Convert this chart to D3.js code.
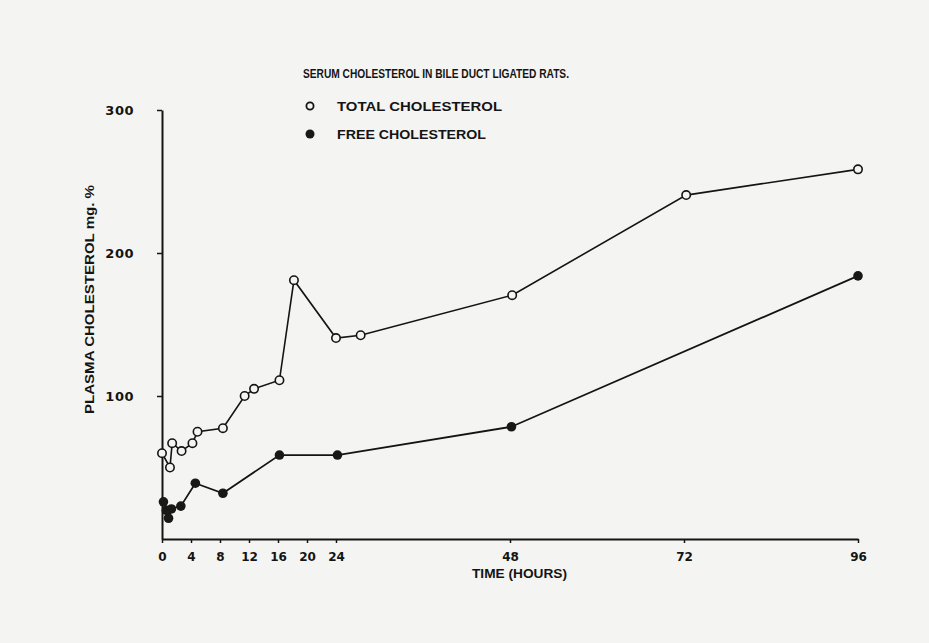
<!DOCTYPE html>
<html>
<head>
<meta charset="utf-8">
<script src="https://cdn.jsdelivr.net/npm/d3@7"></script>
<style>
  html, body { margin: 0; padding: 0; background: #f4f4f2; }
  svg { display: block; }
  text { font-family: "Liberation Sans", "DejaVu Sans", sans-serif; font-weight: bold; fill: #141414; }
  .tick text { font-family: "DejaVu Sans", sans-serif; }
</style>
</head>
<body>
<script>
// ---- data ----
const titleText = "SERUM CHOLESTEROL IN BILE DUCT LIGATED RATS.";
const seriesNames = ["TOTAL CHOLESTEROL", "FREE CHOLESTEROL"];
const totalHours = [0, 1.1, 1.4, 2.7, 4.2, 4.9, 8.4, 11.4, 12.7, 16.2, 18.2, 24, 27.4, 48.3, 72.3, 96];
const totalValues = [60, 50, 67, 61.5, 67, 75, 77.5, 100, 105, 111, 181, 140.5, 142.5, 170.5, 240.5, 258.5];
const freeHours = [0.2, 0.6, 0.9, 1.3, 2.6, 4.6, 8.4, 16.2, 24.2, 48.2, 96];
const freeValues = [26, 20, 14.5, 21, 23, 39, 32, 58.7, 58.7, 78.5, 184];
const xTicks = [0, 4, 8, 12, 16, 20, 24, 48, 72, 96];
const yTicks = [100, 200, 300];
const xLabel = "TIME (HOURS)";
const yLabel = "PLASMA CHOLESTEROL mg. %";

const W = 929, H = 643;
const svg = d3.select("body").append("svg").attr("width", W).attr("height", H);

svg.append("rect").attr("width", W).attr("height", H).attr("fill", "#f4f4f2");

const x = d3.scaleLinear().domain([0, 96]).range([162, 858]);
const y = d3.scaleLinear().domain([0, 300]).range([539, 110]);

// axes
const xAxis = d3.axisBottom(x).tickValues(xTicks).tickSize(4).tickSizeOuter(0).tickPadding(9);
const gx = svg.append("g").attr("transform", `translate(0,${y(0)})`).call(xAxis);
gx.select(".domain").attr("stroke", "#141414").attr("stroke-width", 2);
gx.selectAll(".tick line").attr("stroke", "#141414").attr("stroke-width", 1.5);
gx.selectAll(".tick text").attr("font-size", 12).attr("fill", "#141414");

const yAxis = d3.axisLeft(y).tickValues(yTicks).tickSize(5).tickSizeOuter(0).tickPadding(23);
const gy = svg.append("g").attr("transform", `translate(${x(0)},0)`).call(yAxis);
gy.select(".domain").attr("stroke", "#141414").attr("stroke-width", 2);
gy.selectAll(".tick line").attr("stroke", "#141414").attr("stroke-width", 1.5);
gy.selectAll(".tick text").attr("font-size", 13).attr("fill", "#141414")
  .attr("letter-spacing", 0.5);

// axis titles
svg.append("text").attr("x", 472).attr("y", 578)
  .attr("font-size", 12).attr("textLength", 95).attr("lengthAdjust", "spacingAndGlyphs").text(xLabel);
svg.append("text").attr("transform", "translate(94,414) rotate(-90)")
  .attr("font-size", 12).attr("textLength", 229).attr("lengthAdjust", "spacingAndGlyphs").text(yLabel);

// title + legend
svg.append("text").attr("x", 303).attr("y", 78).attr("font-size", 12.5)
  .attr("textLength", 266).attr("lengthAdjust", "spacingAndGlyphs").text(titleText);

const line = d3.line().x(d => x(d[0])).y(d => y(d[1]));
const totalData = totalHours.map((h, i) => [h, totalValues[i]]);
const freeData = freeHours.map((h, i) => [h, freeValues[i]]);

svg.append("path").datum(totalData).attr("d", line).attr("fill", "none")
  .attr("stroke", "#141414").attr("stroke-width", 1.6);
svg.append("path").datum(freeData).attr("d", line).attr("fill", "none")
  .attr("stroke", "#141414").attr("stroke-width", 1.8);

svg.selectAll("circle.total").data(totalData).enter().append("circle").attr("class", "total")
  .attr("cx", d => x(d[0])).attr("cy", d => y(d[1])).attr("r", 4.2)
  .attr("fill", "#f4f4f2").attr("stroke", "#141414").attr("stroke-width", 1.6);
svg.selectAll("circle.free").data(freeData).enter().append("circle").attr("class", "free")
  .attr("cx", d => x(d[0])).attr("cy", d => y(d[1])).attr("r", 4.8)
  .attr("fill", "#181818");

const legend = svg.append("g");
const legY = [106, 134];
const legLen = [165, 149];
seriesNames.forEach((name, i) => {
  legend.append("circle").attr("cx", 310).attr("cy", legY[i]).attr("r", i === 0 ? 3.6 : 4.5)
    .attr("fill", i === 0 ? "#f4f4f2" : "#181818").attr("stroke", "#141414").attr("stroke-width", i === 0 ? 1.8 : 0);
  legend.append("text").attr("x", 337).attr("y", legY[i] + 4.5).attr("font-size", 12)
    .attr("textLength", legLen[i]).attr("lengthAdjust", "spacingAndGlyphs").text(name);
});
</script>
</body>
</html>
